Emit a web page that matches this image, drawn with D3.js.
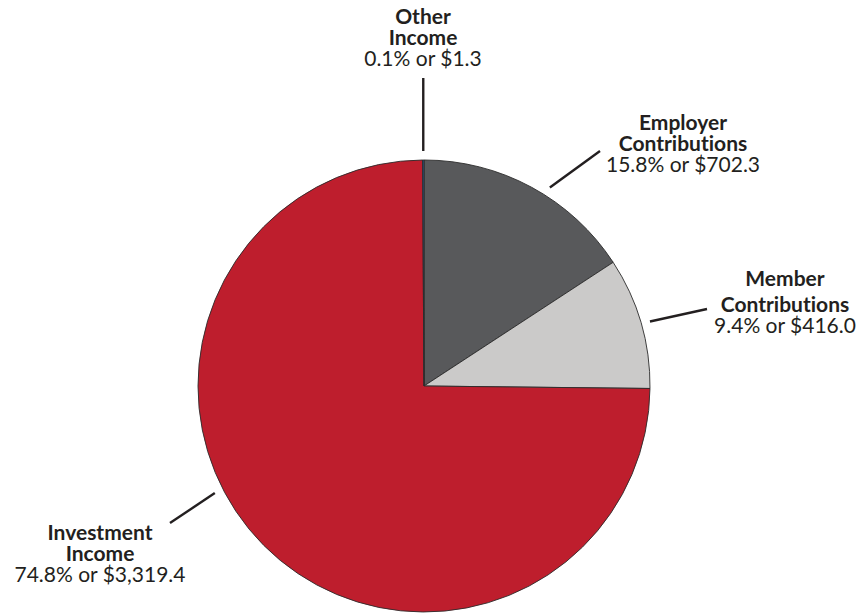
<!DOCTYPE html>
<html>
<head>
<meta charset="utf-8">
<script src="https://cdn.jsdelivr.net/npm/d3@7/dist/d3.min.js"></script>
<style>
  html, body { margin: 0; padding: 0; background: #ffffff; }
  svg { display: block; }
  text { font-family: Lato, "Open Sans", sans-serif; fill: #231f20; font-variant-ligatures: none; font-feature-settings: "liga" 0; }
</style>
</head>
<body>
<svg id="chart" width="867" height="615"></svg>
<script>
// Revenue sources, clockwise from 12 o'clock
const categories = ["Employer Contributions", "Member Contributions", "Investment Income", "Other Income"];
const titleLines = [["Employer", "Contributions"], ["Member", "Contributions"], ["Investment", "Income"], ["Other", "Income"]];
const shares = [15.8, 9.4, 74.8, 0.1];           // percent of total
const amounts = ["$702.3", "$416.0", "$3,319.4", "$1.3"];
const colors = ["#58595b", "#cbcac9", "#be1e2d", "#2f5a92"];

// Label placement: text centre, first baseline, line gaps, and leader geometry
const labelLayout = [
  { x: 683, y: 130, gaps: [21, 21], at: 0.57, end: [600, 151] },
  { x: 785, y: 286, gaps: [26, 21], at: 0.51, end: [707, 309] },
  { x: 100, y: 540, gaps: [21, 21], at: 0.566, end: [170, 523] },
  { x: 423, y: 24,  gaps: [21, 21], at: 0.5, endY: 78 }
];

const svg = d3.select("#chart");
const cx = 424, cy = 386, radius = 226, leaderR = 235;

const pie = d3.pie().sort(null).startAngle(0).endAngle(2 * Math.PI);
const arcs = pie(shares);
const arc = d3.arc().innerRadius(0).outerRadius(radius);

const g = svg.append("g").attr("transform", `translate(${cx},${cy})`);

g.selectAll("path.slice")
  .data(arcs)
  .join("path")
  .attr("class", "slice")
  .attr("d", arc)
  .attr("fill", (d, i) => colors[i])
  .attr("stroke", "#2b2b2b")
  .attr("stroke-width", 0.9)
  .attr("stroke-linejoin", "round");

// Leader lines
arcs.forEach((d, i) => {
  const L = labelLayout[i];
  const a = d.startAngle + (d.endAngle - d.startAngle) * L.at;
  const sx = cx + leaderR * Math.sin(a);
  const sy = cy - leaderR * Math.cos(a);
  const ex = L.end ? L.end[0] : sx;
  const ey = L.end ? L.end[1] : L.endY;
  svg.append("line")
    .attr("x1", sx).attr("y1", sy)
    .attr("x2", ex).attr("y2", ey)
    .attr("stroke", "#231f20")
    .attr("stroke-width", 2.4);
});

// Labels
arcs.forEach((d, i) => {
  const L = labelLayout[i];
  const t = svg.append("text")
    .attr("text-anchor", "middle")
    .attr("font-size", 21);
  let y = L.y;
  t.append("tspan").attr("x", L.x).attr("y", y)
    .attr("font-weight", 700).text(titleLines[i][0]);
  y += L.gaps[0];
  t.append("tspan").attr("x", L.x).attr("y", y)
    .attr("font-weight", 700).text(titleLines[i][1]);
  y += L.gaps[1];
  t.append("tspan").attr("x", L.x).attr("y", y)
    .attr("font-weight", 400).text(`${shares[i].toFixed(1)}% or ${amounts[i]}`);
});
</script>
</body>
</html>
